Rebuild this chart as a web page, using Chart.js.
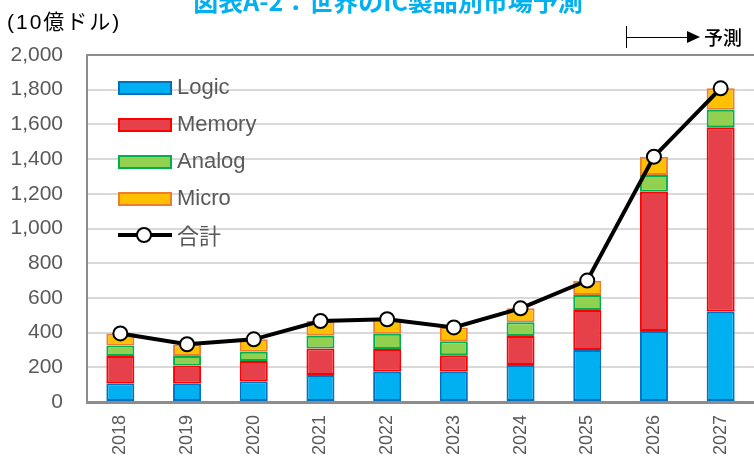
<!DOCTYPE html>
<html>
<head>
<meta charset="utf-8">
<script src="https://cdn.jsdelivr.net/npm/chart.js@4/dist/chart.umd.min.js"></script>
<style>
  body { margin: 0; background: #fff; font-family: "Liberation Sans", Arial, sans-serif; }
  #wrap { position: relative; width: 754px; height: 463px; overflow: hidden; }
  #title { position: absolute; left: 0; width: 776px; top: -15px; text-align: center; color: #00B0F0;
           font: bold 25px "Noto Sans CJK JP", sans-serif; line-height: 30px; }
  #unit { position: absolute; left: 7px; top: 5px; font: 21px "Liberation Sans", "Noto Sans CJK JP", sans-serif; letter-spacing: 2px; color: #000; }
  #forecast { position: absolute; left: 626px; top: 26px; width: 125px; height: 24px; }
  #forecast .vbar { position: absolute; left: 0; top: 0; width: 1px; height: 22px; background: #000; }
  #forecast .shaft { position: absolute; left: 0; top: 11px; width: 62px; height: 1px; background: #000; }
  #forecast .head { position: absolute; left: 61px; top: 5px; width: 0; height: 0;
                    border-top: 6px solid transparent; border-bottom: 6px solid transparent; border-left: 13px solid #000; }
  #forecast .txt { position: absolute; left: 78px; top: -3px; font: 500 19px "Noto Sans CJK JP", sans-serif; color: #000; }
  #legend { position: absolute; left: 118px; top: 72px; }
  .row { position: relative; height: 37px; }
  .box { position: absolute; left: 0; top: 9px; width: 50px; height: 10px; border: 2px solid; }
  .lab { position: absolute; left: 59px; top: 2px; font-size: 22px; color: #595959; white-space: nowrap; }
  .lab.jp { font-family: "Noto Sans CJK JP", sans-serif; top: -2px; }
  .ln { position: absolute; left: 0; top: 13px; width: 54px; height: 4px; background: #000; }
  .dot { position: absolute; left: 18px; top: 7px; width: 12px; height: 12px; border: 2px solid #000; border-radius: 50%; background: #fff; }
</style>
</head>
<body>
<div id="wrap">
  <canvas id="chart" width="754" height="463"></canvas>
  <div id="title">図表A-2：世界のIC製品別市場予測</div>
  <div id="unit">(10億ドル)</div>
  <div id="forecast"><div class="vbar"></div><div class="shaft"></div><div class="head"></div><div class="txt">予測</div></div>
  <div id="legend"></div>
</div>
<script>
// Data (10億ドル)
const years = ['2018', '2019', '2020', '2021', '2022', '2023', '2024', '2025', '2026', '2027'];
const logic  = [108, 105, 119, 156, 175, 175, 213, 300, 409, 520];
const memory = [157, 106, 117, 153, 130,  94, 167, 230, 803, 1063];
const analog = [ 60,  54,  54,  73,  89,  81,  79,  87,  96, 102];
const micro  = [ 70,  67,  71,  85,  83,  80,  81,  82, 106, 123];
const total  = [395, 333, 361, 467, 477, 430, 540, 700, 1414, 1808];

const yTicks = { min: 0, max: 2000, step: 200 };

const barSeries = [
  { label: 'Logic',  data: logic,  fill: '#00B0F0', line: '#0070C0' },
  { label: 'Memory', data: memory, fill: '#E6404B', line: '#FF0000' },
  { label: 'Analog', data: analog, fill: '#92D050', line: '#00B050' },
  { label: 'Micro',  data: micro,  fill: '#FFC000', line: '#ED7D31' }
];

const datasets = barSeries.map(s => ({
  type: 'bar',
  label: s.label,
  data: s.data,
  backgroundColor: s.fill,
  borderColor: s.line,
  borderWidth: 2,
  borderSkipped: false,
  stack: 'parts',
  barPercentage: 0.42,
  categoryPercentage: 1,
  order: 2
}));

datasets.push({
  type: 'line',
  label: '合計',
  data: total,
  borderColor: '#000',
  borderWidth: 4,
  pointRadius: 7,
  pointBorderWidth: 2,
  pointBackgroundColor: '#fff',
  pointBorderColor: '#000',
  stack: 'total',
  tension: 0,
  order: 1
});

// HTML legend inside the plot area
const legend = document.getElementById('legend');
barSeries.forEach(s => {
  const row = document.createElement('div');
  row.className = 'row';
  row.innerHTML = `<div class="box" style="background:${s.fill};border-color:${s.line}"></div><div class="lab">${s.label}</div>`;
  legend.appendChild(row);
});
const totalRow = document.createElement('div');
totalRow.className = 'row';
totalRow.innerHTML = '<div class="ln"></div><div class="dot"></div><div class="lab jp">合計</div>';
legend.appendChild(totalRow);

new Chart(document.getElementById('chart'), {
  data: { labels: years, datasets: datasets },
  options: {
    responsive: false,
    animation: false,
    layout: { autoPadding: false, padding: { top: 55, right: 0, left: 0, bottom: 0 } },
    plugins: { legend: { display: false }, tooltip: { enabled: false } },
    scales: {
      x: {
        stacked: true,
        grid: { display: false },
        border: { color: '#8C8C8C', width: 3 },
        ticks: { color: '#595959', font: { size: 18, family: 'Liberation Sans' }, maxRotation: 90, minRotation: 90, padding: 5 },
        afterFit: s => { s.height = 61; s.paddingLeft = 0; s.paddingRight = 0; }
      },
      y: {
        stacked: true,
        min: yTicks.min,
        max: yTicks.max,
        ticks: {
          stepSize: yTicks.step,
          color: '#595959',
          padding: 24,
          font: { size: 21, family: 'Liberation Sans' },
          callback: v => v.toLocaleString('en-US')
        },
        grid: {
          drawTicks: false,
          lineWidth: 2,
          color: c => c.tick.value === yTicks.max ? '#8C8C8C' : '#D9D9D9'
        },
        border: { color: '#8C8C8C', width: 2 },
        afterFit: s => { s.width = 87; s.paddingTop = 0; s.paddingBottom = 0; }
      }
    }
  }
});
</script>
</body>
</html>
